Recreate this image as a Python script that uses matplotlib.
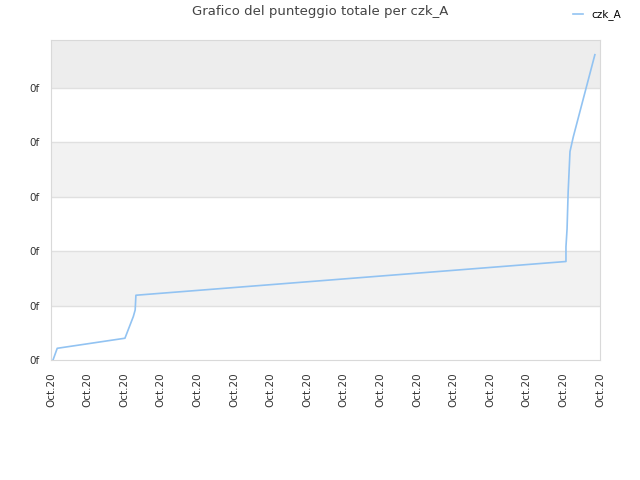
import matplotlib
matplotlib.use("Agg")
import matplotlib.pyplot as plt

# data (x in tick units, y in gridline units)
x_vals = [0.055, 0.17, 2.02, 2.25, 2.30, 2.32, 14.07, 14.07, 14.10, 14.13, 14.18, 14.27, 14.86]
y_vals = [0.0, 0.215, 0.40, 0.80, 0.92, 1.19, 1.81, 2.08, 2.41, 3.09, 3.83, 4.10, 5.61]
x_ticks = list(range(16))
x_labels = ["Oct.20"] * 16
y_ticks = [0, 1, 2, 3, 4, 5]
y_labels = ["0f"] * 6

fig = plt.figure(figsize=(6.4, 4.8), dpi=100)
ax = fig.add_axes([51/640, 1 - 360/480, 549/640, 320/480])

ymax = 5.88
ax.set_xlim(0, 15)
ax.set_ylim(0, ymax)

# alternating background bands
ax.axhspan(5, ymax, color="#ededed", zorder=0, lw=0)
ax.axhspan(3, 4, color="#f2f2f2", zorder=0, lw=0)
ax.axhspan(1, 2, color="#f2f2f2", zorder=0, lw=0)
for y in y_ticks[1:]:
    ax.axhline(y, color="#e0e0e0", lw=1, zorder=1)

ax.plot(x_vals, y_vals, color="#92c3f2", lw=1.2, label="czk_A", zorder=3)

ax.set_xticks(x_ticks)
ax.set_xticklabels(x_labels, rotation=90, fontsize=7.5, color="#333333")
ax.set_yticks(y_ticks)
ax.set_yticklabels(y_labels, fontsize=7.5, color="#333333")
ax.tick_params(length=0, pad=8)
ax.tick_params(axis="x", pad=9)

for s in ax.spines.values():
    s.set_color("#d9d9d9")

fig.suptitle("Grafico del punteggio totale per czk_A", fontsize=9.5, color="#444444", y=0.99)
fig.legend(loc="upper right", bbox_to_anchor=(0.985, 1.0), frameon=False,
           fontsize=7.5, handlelength=1.0, handletextpad=0.8)

fig.savefig("out.png", dpi=100)
